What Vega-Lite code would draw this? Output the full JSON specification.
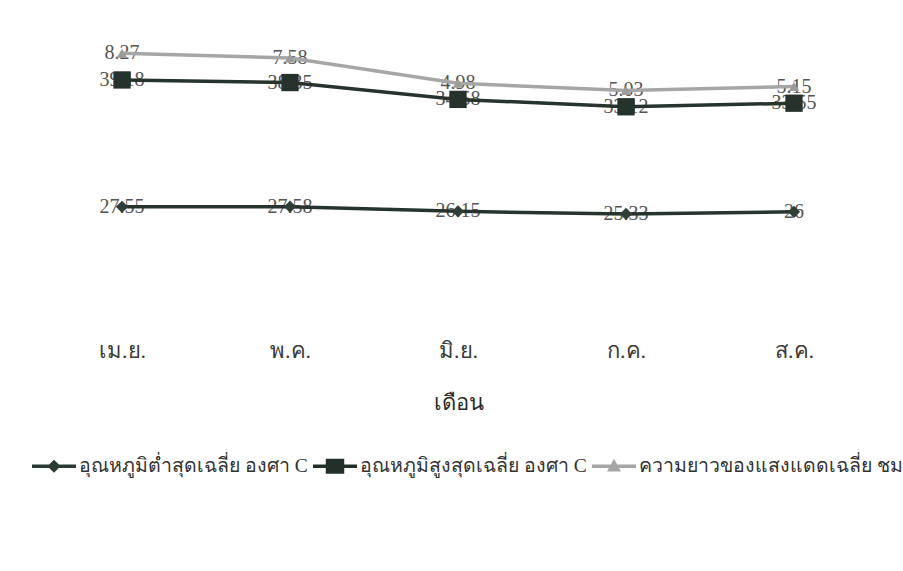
{
  "$schema": "https://vega.github.io/schema/vega-lite/v6.json",
  "width": 840,
  "height": 259,
  "autosize": {"type": "none"},
  "padding": {"left": 38, "top": 37, "right": 25, "bottom": 275},
  "background": "white",
  "config": {
    "font": "Liberation Serif",
    "view": {"stroke": null}
  },
  "data": {
    "values": [
      {"month": "เม.ย.", "series": "อุณหภูมิต่ำสุดเฉลี่ย องศา C", "k": 1, "value": 27.55},
      {"month": "พ.ค.", "series": "อุณหภูมิต่ำสุดเฉลี่ย องศา C", "k": 1, "value": 27.58},
      {"month": "มิ.ย.", "series": "อุณหภูมิต่ำสุดเฉลี่ย องศา C", "k": 1, "value": 26.15},
      {"month": "ก.ค.", "series": "อุณหภูมิต่ำสุดเฉลี่ย องศา C", "k": 1, "value": 25.33},
      {"month": "ส.ค.", "series": "อุณหภูมิต่ำสุดเฉลี่ย องศา C", "k": 1, "value": 26},
      {"month": "เม.ย.", "series": "อุณหภูมิสูงสุดเฉลี่ย องศา C", "k": 2, "value": 39.18},
      {"month": "พ.ค.", "series": "อุณหภูมิสูงสุดเฉลี่ย องศา C", "k": 2, "value": 38.35},
      {"month": "มิ.ย.", "series": "อุณหภูมิสูงสุดเฉลี่ย องศา C", "k": 2, "value": 34.58},
      {"month": "ก.ค.", "series": "อุณหภูมิสูงสุดเฉลี่ย องศา C", "k": 2, "value": 33.12},
      {"month": "ส.ค.", "series": "อุณหภูมิสูงสุดเฉลี่ย องศา C", "k": 2, "value": 33.55},
      {"month": "เม.ย.", "series": "ความยาวของแสงแดดเฉลี่ย ชม.", "k": 3, "value": 8.27},
      {"month": "พ.ค.", "series": "ความยาวของแสงแดดเฉลี่ย ชม.", "k": 3, "value": 7.58},
      {"month": "มิ.ย.", "series": "ความยาวของแสงแดดเฉลี่ย ชม.", "k": 3, "value": 4.98},
      {"month": "ก.ค.", "series": "ความยาวของแสงแดดเฉลี่ย ชม.", "k": 3, "value": 5.03},
      {"month": "ส.ค.", "series": "ความยาวของแสงแดดเฉลี่ย ชม.", "k": 3, "value": 5.15}
    ]
  },
  "transform": [
    {"stack": "value", "groupby": ["month"], "sort": [{"field": "k", "order": "ascending"}], "as": ["y0", "y1"]}
  ],
  "encoding": {
    "x": {
      "field": "month",
      "type": "ordinal",
      "sort": ["เม.ย.", "พ.ค.", "มิ.ย.", "ก.ค.", "ส.ค."],
      "scale": {"padding": 0.5},
      "axis": {
        "title": "เดือน",
        "domain": false,
        "ticks": false,
        "grid": false,
        "labelAngle": 0,
        "labelFont": "Liberation Serif",
        "labelFontSize": 22,
        "labelColor": "#3a3a3a",
        "labelPadding": 44,
        "titleFont": "Liberation Serif",
        "titleFontSize": 22,
        "titleFontWeight": "normal",
        "titleColor": "#2a2a2a",
        "titlePadding": 31
      }
    },
    "y": {
      "field": "y1",
      "type": "quantitative",
      "scale": {"domain": [0, 80], "nice": false, "zero": true},
      "axis": null
    }
  },
  "layer": [
    {
      "mark": {"type": "text", "fontSize": 20, "font": "Liberation Serif", "color": "#555555", "baseline": "middle", "align": "center"},
      "encoding": {"text": {"field": "value", "type": "quantitative"}}
    },
    {
      "mark": {"type": "line", "strokeWidth": 3.5},
      "encoding": {
        "detail": {"field": "series", "type": "nominal"},
        "color": {"condition": {"test": "datum.k == 3", "value": "#a6a6a6"}, "value": "#26342d"}
      }
    },
    {
      "transform": [{"filter": "datum.k == 1"}],
      "mark": {"type": "point", "shape": "diamond", "filled": true, "size": 150, "color": "#2f3f36", "opacity": 1}
    },
    {
      "transform": [{"filter": "datum.k == 2"}],
      "mark": {"type": "point", "shape": "square", "filled": true, "size": 300, "color": "#26332c", "opacity": 1}
    },
    {
      "transform": [{"filter": "datum.k == 3"}],
      "mark": {"type": "point", "shape": "triangle-up", "filled": true, "size": 110, "color": "#9c9c9c", "opacity": 1}
    },
    {
      "mark": {"type": "point", "filled": true, "opacity": 0, "size": 1936, "strokeWidth": 0},
      "encoding": {
        "color": {
          "field": "series",
          "type": "nominal",
          "scale": {
            "domain": ["อุณหภูมิต่ำสุดเฉลี่ย องศา C", "อุณหภูมิสูงสุดเฉลี่ย องศา C", "ความยาวของแสงแดดเฉลี่ย ชม."],
            "range": ["#2b3a32", "#22302a", "#a6a6a6"]
          },
          "legend": {
            "orient": "none",
            "direction": "horizontal",
            "legendX": -6,
            "legendY": 407,
            "title": null,
            "symbolSize": 1936,
            "symbolOpacity": 1,
            "symbolStrokeWidth": 0,
            "labelFont": "Liberation Serif",
            "labelFontSize": 19.5,
            "labelColor": "#333333",
            "labelLimit": 2000,
            "labelOffset": 3,
            "columnPadding": 5
          }
        },
        "shape": {
          "field": "series",
          "type": "nominal",
          "scale": {
            "domain": ["อุณหภูมิต่ำสุดเฉลี่ย องศา C", "อุณหภูมิสูงสุดเฉลี่ย องศา C", "ความยาวของแสงแดดเฉลี่ย ชม."],
            "range": [
              "M-1,-0.08H1V0.08H-1Z M0,-0.3L0.3,0L0,0.3L-0.3,0Z",
              "M-1,-0.08H1V0.08H-1Z M-0.42,-0.34H0.42V0.34H-0.42Z",
              "M-1,-0.08H1V0.08H-1Z M0,-0.34L0.32,0.24H-0.32Z"
            ]
          },
          "legend": {
            "orient": "none",
            "direction": "horizontal",
            "legendX": -6,
            "legendY": 407,
            "title": null,
            "symbolSize": 1936,
            "symbolOpacity": 1,
            "symbolStrokeWidth": 0,
            "labelFont": "Liberation Serif",
            "labelFontSize": 19.5,
            "labelColor": "#333333",
            "labelLimit": 2000,
            "labelOffset": 3,
            "columnPadding": 5
          }
        }
      }
    }
  ]
}
